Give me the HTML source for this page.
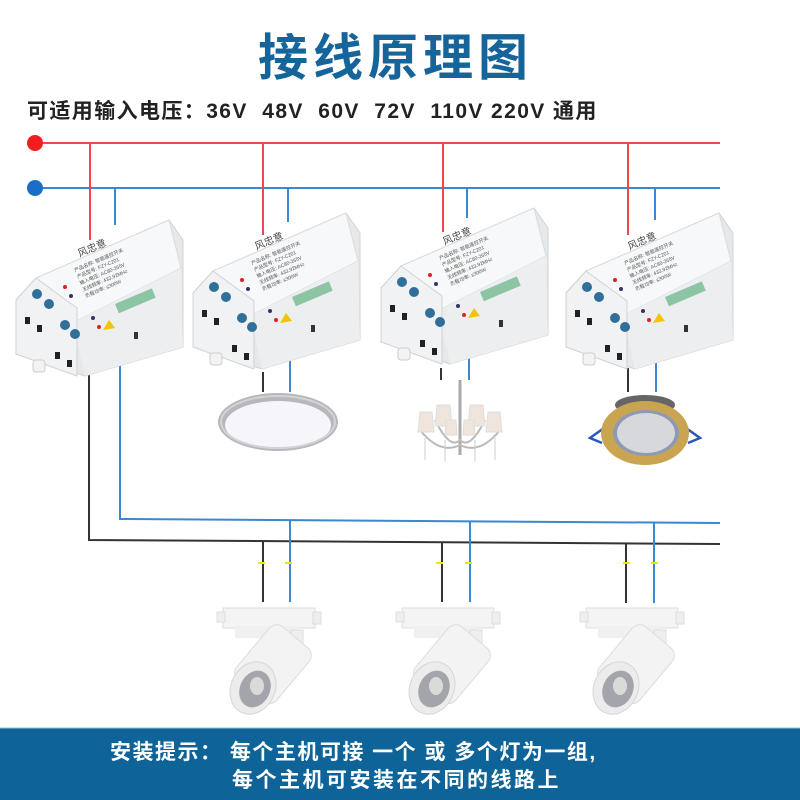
<!DOCTYPE html>
<html><head><meta charset="utf-8"><style>
html,body{margin:0;padding:0;background:#fff;}
body{width:800px;height:800px;position:relative;overflow:hidden;font-family:"Liberation Sans","Noto Sans CJK SC",sans-serif;}
.t{position:absolute;white-space:nowrap;font-weight:bold;}
</style></head><body>
<svg width="800" height="800" style="position:absolute;left:0;top:0">
<defs>
<g id="mod">
 <polygon points="1,88 21,66 154,8 168,28 168,112 168,135 70,164 1,142" fill="#e6e8ea" stroke="#cfd3d6" stroke-width="1"/>
 <polygon points="21,66 154,8 166,56 40,120" fill="#f7f8f9" stroke="#d8dcdf"/>
 <polygon points="40,120 166,56 168,135 70,164 62,128" fill="#eceef0"/>
 <polygon points="1,88 21,66 62,96 62,164 1,142" fill="#f1f2f3" stroke="#cfd3d6"/>
 <circle cx="22" cy="82" r="5" fill="#2f6f9a"/><circle cx="34" cy="92" r="5" fill="#2f6f9a"/>
 <circle cx="50" cy="113" r="5" fill="#2f6f9a"/><circle cx="60" cy="122" r="5" fill="#2f6f9a"/>
 <rect x="10" y="105" width="5" height="7" fill="#222"/><rect x="22" y="113" width="5" height="7" fill="#222"/>
 <rect x="40" y="140" width="5" height="7" fill="#222"/><rect x="52" y="148" width="5" height="7" fill="#222"/>
 <rect x="18" y="148" width="12" height="12" rx="3" fill="#f3f3f3" stroke="#ccc"/>
 <rect x="119" y="120" width="4" height="7" fill="#333"/>
 <g transform="rotate(-23 60 60)" font-size="5" fill="#555">
  <text x="70" y="48" font-size="10" fill="#444">风忠意</text>
  <text x="60" y="60">产品名称: 智能遥控开关</text>
  <text x="60" y="67">产品型号: FZY-C201</text>
  <text x="60" y="74">输入电压: AC80-265V</text>
  <text x="60" y="81">无线频率: 433.92MHz</text>
  <text x="60" y="88">负载功率: ≤300W</text>
 </g>
 <circle cx="50" cy="75" r="2" fill="#d22"/><circle cx="56" cy="84" r="2" fill="#336"/>
 <circle cx="78" cy="106" r="2" fill="#336"/><circle cx="84" cy="115" r="2" fill="#d22"/>
 <polygon points="88,118 94,108 100,116" fill="#f2c500"/>
 <rect x="100" y="92" width="40" height="10" fill="#2e9a58" opacity="0.5" transform="rotate(-23 100 92)"/>
</g>
<g id="track">
 <rect x="-40" y="8" width="92" height="20" fill="#f4f4f4" stroke="#ddd"/>
 <rect x="-46" y="12" width="8" height="10" fill="#eee" stroke="#ddd"/>
 <rect x="50" y="12" width="8" height="12" fill="#eee" stroke="#ddd"/>
 <rect x="-28" y="26" width="62" height="12" fill="#f0f0f0"/>
 <rect x="28" y="30" width="12" height="22" fill="#eee" stroke="#ddd"/>
 <g transform="rotate(40 -10 88)">
  <rect x="-36" y="22" width="52" height="70" rx="10" fill="#f3f3f3" stroke="#dcdcdc"/>
 </g>
 <ellipse cx="-10" cy="88" rx="22" ry="27" fill="#ececec" stroke="#d6d6d6" transform="rotate(25 -10 88)"/>
 <ellipse cx="-8" cy="89" rx="15" ry="19" fill="#a4a5aa" transform="rotate(25 -8 89)"/>
 <ellipse cx="-6" cy="86" rx="7" ry="9" fill="#dadada"/>
</g>
</defs>

<line x1="35" y1="143" x2="720" y2="143" stroke="#f0474f" stroke-width="2"/>
<line x1="35" y1="188" x2="720" y2="188" stroke="#3b87d0" stroke-width="2"/>
<circle cx="35" cy="143" r="8" fill="#f01e1e"/>
<circle cx="35" cy="188" r="8" fill="#1a6ec8"/>

<g stroke-width="2">
<line x1="90" y1="143" x2="90" y2="240" stroke="#f0474f"/><line x1="115" y1="188" x2="115" y2="225" stroke="#3b87d0"/>
<line x1="263" y1="143" x2="263" y2="235" stroke="#f0474f"/><line x1="288" y1="188" x2="288" y2="222" stroke="#3b87d0"/>
<line x1="443" y1="143" x2="443" y2="232" stroke="#f0474f"/><line x1="467" y1="188" x2="467" y2="218" stroke="#3b87d0"/>
<line x1="628" y1="143" x2="628" y2="235" stroke="#f0474f"/><line x1="655" y1="188" x2="655" y2="220" stroke="#3b87d0"/>
</g>

<g stroke-width="2" fill="none">
<polyline points="89,370 89,540 720,544" stroke="#333"/>
<polyline points="120,350 120,519 720,523" stroke="#3b87d0"/>
<line x1="263" y1="372" x2="263" y2="392" stroke="#333"/><line x1="290" y1="355" x2="290" y2="392" stroke="#3b87d0"/>
<line x1="441" y1="368" x2="441" y2="380" stroke="#333"/><line x1="469" y1="350" x2="469" y2="380" stroke="#3b87d0"/>
<line x1="628" y1="368" x2="628" y2="392" stroke="#333"/><line x1="656" y1="352" x2="656" y2="392" stroke="#3b87d0"/>
<line x1="263" y1="541" x2="263" y2="602" stroke="#333"/><line x1="290" y1="521" x2="290" y2="602" stroke="#3b87d0"/>
<line x1="442" y1="542" x2="442" y2="602" stroke="#333"/><line x1="470" y1="522" x2="470" y2="602" stroke="#3b87d0"/>
<line x1="626" y1="543" x2="626" y2="603" stroke="#333"/><line x1="654" y1="523" x2="654" y2="603" stroke="#3b87d0"/>
</g>
<g stroke="#f2e400" stroke-width="2">
<line x1="258" y1="563" x2="265" y2="563"/><line x1="285" y1="563" x2="292" y2="563"/>
<line x1="436" y1="563" x2="443" y2="563"/><line x1="465" y1="563" x2="472" y2="563"/>
<line x1="623" y1="563" x2="630" y2="563"/><line x1="651" y1="563" x2="658" y2="563"/>
</g>

<use href="#mod" transform="translate(15,212)"/>
<use href="#mod" transform="translate(192,205)"/>
<use href="#mod" transform="translate(380,200)"/>
<use href="#mod" transform="translate(565,205)"/>

<ellipse cx="278" cy="422" rx="60" ry="29" fill="#b7b8bb"/>
<ellipse cx="278" cy="425" rx="53" ry="24" fill="#f6f6fa"/>
<ellipse cx="278" cy="422" rx="57" ry="26" fill="none" stroke="#d2d3d6" stroke-width="2"/>

<g>
 <line x1="460" y1="380" x2="460" y2="455" stroke="#aaa" stroke-width="3"/>
 <path d="M420 430 Q440 455 460 445 Q480 455 500 430" fill="none" stroke="#bbb" stroke-width="2"/>
 <path d="M435 420 Q450 450 460 440 Q470 450 485 420" fill="none" stroke="#bbb" stroke-width="2"/>
 <g fill="#efe5dc" stroke="#ddd">
  <polygon points="420,412 432,412 434,432 418,432"/>
  <polygon points="437,405 450,405 452,426 435,426"/>
  <polygon points="470,405 483,405 485,426 468,426"/>
  <polygon points="488,412 500,412 502,432 486,432"/>
  <polygon points="446,420 456,420 457,435 445,435"/>
  <polygon points="464,420 474,420 475,435 463,435"/>
 </g>
 <g stroke="#ccc" stroke-width="1"><line x1="425" y1="438" x2="425" y2="460"/><line x1="445" y1="440" x2="445" y2="462"/><line x1="475" y1="440" x2="475" y2="462"/><line x1="495" y1="438" x2="495" y2="460"/></g>
</g>

<g>
 <path d="M604 428 L590 438 L602 443" fill="none" stroke="#2a57b8" stroke-width="2.5"/>
 <path d="M686 428 L700 438 L688 443" fill="none" stroke="#2a57b8" stroke-width="2.5"/>
 <ellipse cx="645" cy="405" rx="30" ry="10" fill="#666"/>
 <ellipse cx="645" cy="433" rx="44" ry="32" fill="#c9a552"/>
 <ellipse cx="646" cy="433" rx="33" ry="23" fill="#8e9ab4"/>
 <ellipse cx="646" cy="433" rx="29" ry="20" fill="#d6d8dc"/>
</g>

<use href="#track" transform="translate(263,600)"/>
<use href="#track" transform="translate(442,600)"/>
<use href="#track" transform="translate(626,600)"/>

<rect x="0" y="728" width="800" height="72" fill="#0e6399"/>
<line x1="0" y1="728" x2="800" y2="728" stroke="#9cc2dc" stroke-width="1"/>
</svg>

<div class="t" style="left:258px;top:18px;font-size:50px;color:#15659b;letter-spacing:5px;">接线原理图</div>
<div class="t" style="left:27px;top:95px;font-size:21px;color:#222;letter-spacing:1.4px;">可适用输入电压：36V&nbsp; 48V&nbsp; 60V&nbsp; 72V&nbsp; 110V 220V 通用</div>
<div class="t" style="left:110px;top:736px;font-size:21px;color:#fff;letter-spacing:1.5px;">安装提示：&nbsp;每个主机可接 一个 或 多个灯为一组,</div>
<div class="t" style="left:232px;top:764px;font-size:21px;color:#fff;letter-spacing:2.5px;">每个主机可安装在不同的线路上</div>
</body></html>
